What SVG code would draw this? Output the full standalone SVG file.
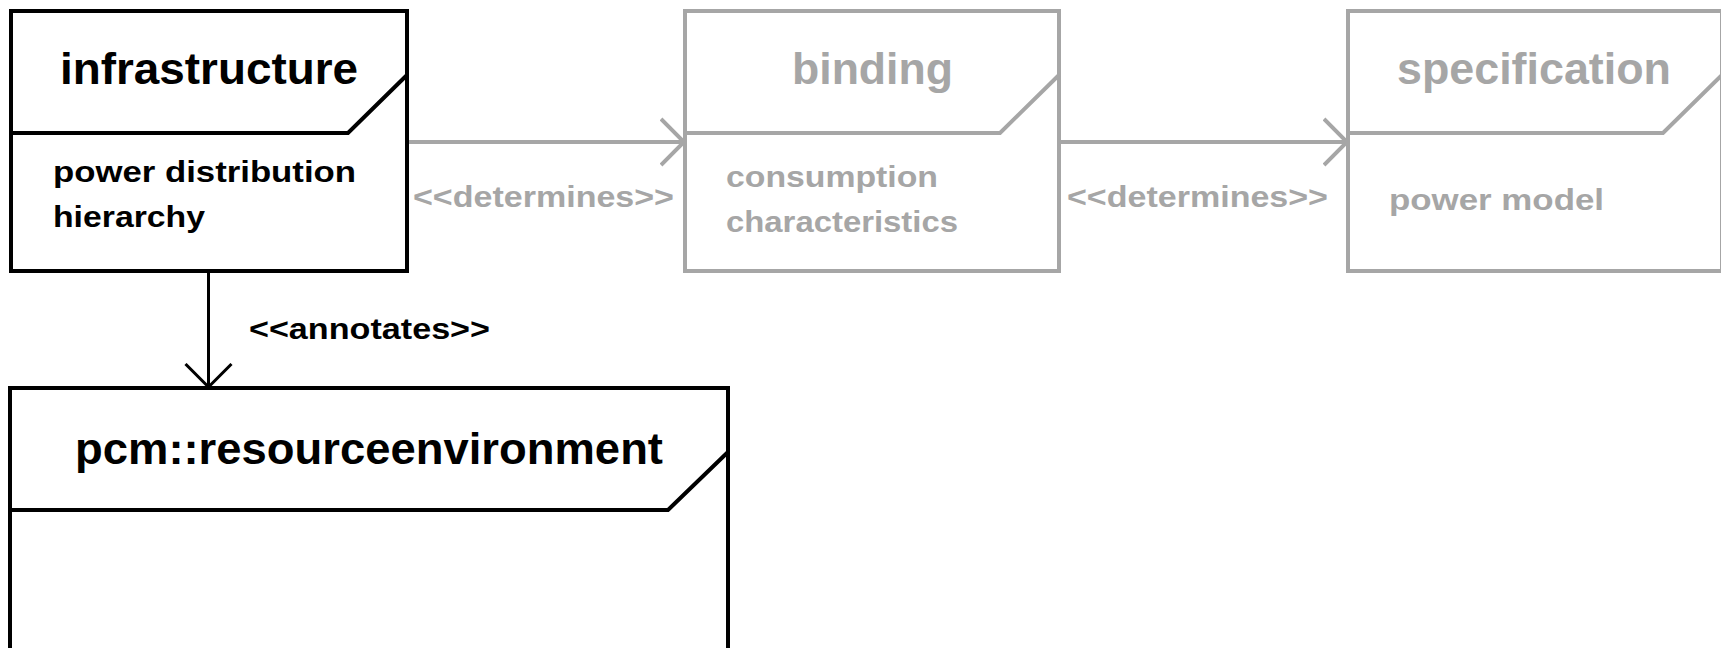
<svg xmlns="http://www.w3.org/2000/svg" width="1721" height="648" viewBox="0 0 1721 648">
<style>
.fb{fill:#fff;stroke:#000;stroke-width:4}
.fg{fill:#fff;stroke:#a6a6a6;stroke-width:4}
.hb{fill:none;stroke:#000;stroke-width:4}
.hg{fill:none;stroke:#a6a6a6;stroke-width:4}
.cb{fill:none;stroke:#000;stroke-width:3}
.cg{fill:none;stroke:#a6a6a6;stroke-width:4}
text{font-family:"Liberation Sans",Arial,sans-serif;font-weight:bold}
.t{font-size:45px}
.b{font-size:30px}
.k{fill:#000}
.g{fill:#a6a6a6}
</style>
<defs>
<marker id="ab" markerUnits="userSpaceOnUse" viewBox="0 0 26 50" refX="24" refY="25" markerWidth="26" markerHeight="50" orient="auto">
<path d="M1,2 L24,25 L1,48" fill="none" stroke="#000" stroke-width="3"/>
</marker>
<marker id="ag" markerUnits="userSpaceOnUse" viewBox="0 0 26 50" refX="24" refY="25" markerWidth="26" markerHeight="50" orient="auto">
<path d="M1,2 L24,25 L1,48" fill="none" stroke="#a6a6a6" stroke-width="4"/>
</marker>
</defs>
<g id="connectors">
<line class="cg" x1="407" y1="142" x2="684" y2="142" marker-end="url(#ag)"/>
<line class="cg" x1="1059" y1="142" x2="1347" y2="142" marker-end="url(#ag)"/>
<line class="cb" x1="208.5" y1="271" x2="208.5" y2="387" marker-end="url(#ab)"/>
<text class="b g" x="413" y="207" textLength="261" lengthAdjust="spacingAndGlyphs">&lt;&lt;determines&gt;&gt;</text>
<text class="b g" x="1067" y="207" textLength="261" lengthAdjust="spacingAndGlyphs">&lt;&lt;determines&gt;&gt;</text>
<text class="b k" x="249" y="339" textLength="241" lengthAdjust="spacingAndGlyphs">&lt;&lt;annotates&gt;&gt;</text>
</g>
<g id="infrastructure">
<rect class="fb" x="11" y="11" width="396" height="260"/>
<path class="hb" d="M11,133 H348 L407,75"/>
<text class="t k" x="60" y="84" textLength="298" lengthAdjust="spacingAndGlyphs">infrastructure</text>
<text class="b k" x="53" y="182" textLength="303" lengthAdjust="spacingAndGlyphs">power distribution</text>
<text class="b k" x="53" y="227" textLength="152" lengthAdjust="spacingAndGlyphs">hierarchy</text>
</g>
<g id="binding">
<rect class="fg" x="685" y="11" width="374" height="260"/>
<path class="hg" d="M685,133 H1000 L1059,75"/>
<text class="t g" x="792" y="84" textLength="161" lengthAdjust="spacingAndGlyphs">binding</text>
<text class="b g" x="726" y="187" textLength="212" lengthAdjust="spacingAndGlyphs">consumption</text>
<text class="b g" x="726" y="232" textLength="232" lengthAdjust="spacingAndGlyphs">characteristics</text>
</g>
<g id="specification">
<rect class="fg" x="1348" y="11" width="374" height="260"/>
<path class="hg" d="M1348,133 H1663 L1722,75"/>
<text class="t g" x="1397" y="84" textLength="274" lengthAdjust="spacingAndGlyphs">specification</text>
<text class="b g" x="1389" y="210" textLength="215" lengthAdjust="spacingAndGlyphs">power model</text>
</g>
<g id="pcm-resourceenvironment">
<rect class="fb" x="10" y="388" width="718" height="280"/>
<path class="hb" d="M10,510 H668 L728,452"/>
<text class="t k" x="75" y="464" textLength="588" lengthAdjust="spacingAndGlyphs">pcm::resourceenvironment</text>
</g>
</svg>
